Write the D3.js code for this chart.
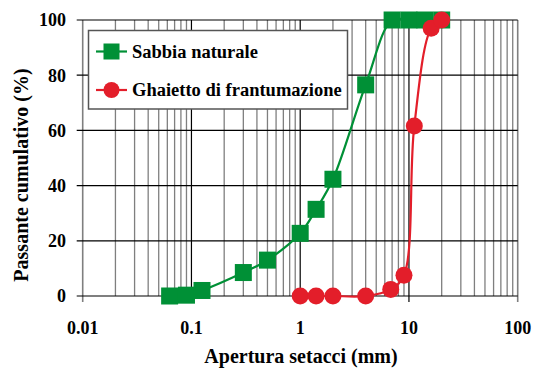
<!DOCTYPE html>
<html><head><meta charset="utf-8">
<script src="https://cdn.jsdelivr.net/npm/d3@7"></script>
<style>body{margin:0;background:#fff}svg text{font-family:"Liberation Serif","Times New Roman",serif;font-weight:bold;fill:#000}</style>
</head><body><svg id="c" width="533" height="370"></svg>
<script>
const sabbiaX = [0.063, 0.09, 0.125, 0.3, 0.5, 1, 1.4, 2, 4, 7, 10, 14, 20];
const sabbiaY = [0, 0.3, 2, 8.5, 13, 22.7, 31.4, 42.3, 76.5, 100, 100, 100, 100];
const ghiaX = [1, 1.4, 2, 4, 6.8, 9, 11.2, 16, 20];
const ghiaY = [0, 0, 0, 0, 2.4, 7.5, 61.6, 97, 100];
const xTicks = [0.01, 0.1, 1, 10, 100];
const xTickLabels = ["0.01", "0.1", "1", "10", "100"];
const yTicks = [0, 20, 40, 60, 80, 100];
const seriesNames = ["Sabbia naturale", "Ghaietto di frantumazione"];

const GREEN = "#009036", RED = "#e31e2a";
const svg = d3.select("#c");
const L = 82.7, R = 517.7, T = 20, B = 296;
const x = d3.scaleLog().domain([0.01, 100]).range([L, R]);
const y = d3.scaleLinear().domain([0, 100]).range([B, T]);

// vertical grid
const minor = [];
for (let d = -2; d < 2; d++) for (let k = 2; k <= 9; k++) minor.push(k * Math.pow(10, d));
svg.append("g").selectAll("line").data(minor).join("line")
  .attr("x1", d => x(d)).attr("x2", d => x(d)).attr("y1", T).attr("y2", B)
  .attr("stroke", "#7f7f7f").attr("stroke-width", 1.3);
svg.append("g").selectAll("line").data(xTicks.slice(1, -1)).join("line")
  .attr("x1", d => x(d)).attr("x2", d => x(d)).attr("y1", T).attr("y2", B)
  .attr("stroke", "#000").attr("stroke-width", 1.2);
// right border
svg.append("line").attr("x1", R).attr("x2", R).attr("y1", T).attr("y2", B + 6)
  .attr("stroke", "#7f7f7f").attr("stroke-width", 1.6);
// left axis
svg.append("line").attr("x1", L).attr("x2", L).attr("y1", T).attr("y2", B + 6)
  .attr("stroke", "#7f7f7f").attr("stroke-width", 1.6);
// horizontal grid
svg.append("g").selectAll("line").data(yTicks).join("line")
  .attr("x1", L - 6).attr("x2", R).attr("y1", d => y(d)).attr("y2", d => y(d))
  .attr("stroke", "#000").attr("stroke-width", 1.2);
// x decade ticks
svg.append("g").selectAll("line").data(xTicks.slice(1, -1)).join("line")
  .attr("x1", d => x(d)).attr("x2", d => x(d)).attr("y1", B).attr("y2", B + 6)
  .attr("stroke", "#000").attr("stroke-width", 1.2);

// tick labels
svg.append("g").selectAll("text").data(xTicks).join("text")
  .attr("x", d => x(d)).attr("y", 334).attr("text-anchor", "middle")
  .attr("font-size", 18).text((d, i) => xTickLabels[i]);
svg.append("g").selectAll("text").data(yTicks).join("text")
  .attr("x", 66).attr("y", d => y(d)).attr("dy", "0.35em").attr("text-anchor", "end")
  .attr("font-size", 18).text(d => d);

// titles
svg.append("text").attr("x", 301).attr("y", 363).attr("text-anchor", "middle")
  .attr("font-size", 20).text("Apertura setacci (mm)");
svg.append("text").attr("transform", "translate(28,175) rotate(-90)").attr("text-anchor", "middle")
  .attr("font-size", 20).text("Passante cumulativo (%)");

// lines
const line = d3.line().x(d => x(d[0])).y(d => y(d[1])).curve(d3.curveCatmullRom.alpha(0.5));
const sab = sabbiaX.map((v, i) => [v, sabbiaY[i]]);
const gh = ghiaX.map((v, i) => [v, ghiaY[i]]);
svg.append("path").datum(sab).attr("d", line).attr("fill", "none").attr("stroke", GREEN).attr("stroke-width", 2.2);
svg.append("g").selectAll("rect").data(sab).join("rect")
  .attr("x", d => x(d[0]) - 8.5).attr("y", d => y(d[1]) - 8.5).attr("width", 17).attr("height", 17).attr("fill", GREEN);
svg.append("path").datum(gh).attr("d", line).attr("fill", "none").attr("stroke", RED).attr("stroke-width", 2.2);
svg.append("g").selectAll("circle").data(gh).join("circle")
  .attr("cx", d => x(d[0])).attr("cy", d => y(d[1])).attr("r", 8.5).attr("fill", RED);

// legend
const lg = svg.append("g");
lg.append("rect").attr("x", 88.5).attr("y", 30.5).attr("width", 259).attr("height", 78.5)
  .attr("fill", "#fff").attr("stroke", "#555").attr("stroke-width", 1.5);
const ly = [51.5, 90];
[GREEN, RED].forEach((c, i) => {
  lg.append("line").attr("x1", 96).attr("x2", 127).attr("y1", ly[i]).attr("y2", ly[i]).attr("stroke", c).attr("stroke-width", 2.2);
  if (i === 0) lg.append("rect").attr("x", 111.5 - 8).attr("y", ly[i] - 8).attr("width", 16).attr("height", 16).attr("fill", c);
  else lg.append("circle").attr("cx", 111.5).attr("cy", ly[i]).attr("r", 8).attr("fill", c);
  lg.append("text").attr("x", 132).attr("y", ly[i]).attr("dy", "0.35em").attr("font-size", 18.5).text(seriesNames[i]);
});
</script></body></html>
